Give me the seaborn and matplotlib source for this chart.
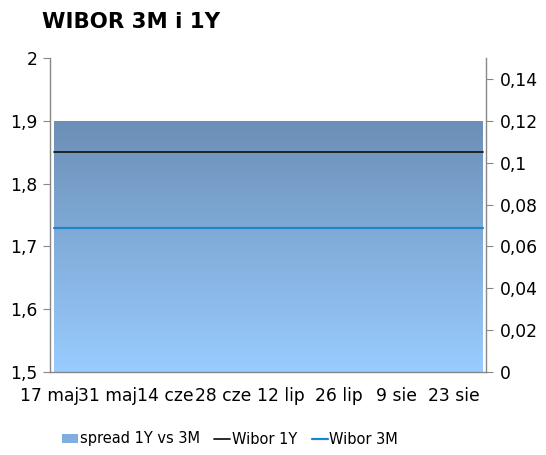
import matplotlib
matplotlib.use("Agg")
import matplotlib.pyplot as plt
import matplotlib.dates as mdates
from matplotlib.patches import Patch
from matplotlib.lines import Line2D
from matplotlib.colors import LinearSegmentedColormap
import seaborn as sns
import numpy as np
import pandas as pd

# ---- data ----
dates = ["2021-05-18", "2021-05-25", "2021-06-01", "2021-06-08", "2021-06-15",
         "2021-06-22", "2021-06-29", "2021-07-06", "2021-07-13", "2021-07-20",
         "2021-07-27", "2021-08-03", "2021-08-10", "2021-08-17", "2021-08-24",
         "2021-08-30"]
wibor_1y = [1.85, 1.85, 1.85, 1.85, 1.85, 1.85, 1.85, 1.85, 1.85, 1.85,
            1.85, 1.85, 1.85, 1.85, 1.85, 1.85]
wibor_3m = [1.73, 1.73, 1.73, 1.73, 1.73, 1.73, 1.73, 1.73, 1.73, 1.73,
            1.73, 1.73, 1.73, 1.73, 1.73, 1.73]
spread = [0.12, 0.12, 0.12, 0.12, 0.12, 0.12, 0.12, 0.12, 0.12, 0.12,
          0.12, 0.12, 0.12, 0.12, 0.12, 0.12]
tick_dates = ["2021-05-17", "2021-05-31", "2021-06-14", "2021-06-28",
              "2021-07-12", "2021-07-26", "2021-08-09", "2021-08-23"]
tick_labels = ["17 maj", "31 maj", "14 cze", "28 cze", "12 lip", "26 lip",
               "9 sie", "23 sie"]
left_ticks = [1.5, 1.6, 1.7, 1.8, 1.9, 2.0]
right_ticks = [0, 0.02, 0.04, 0.06, 0.08, 0.1, 0.12, 0.14]

df = pd.DataFrame({"date": pd.to_datetime(dates), "Wibor 1Y": wibor_1y,
                   "Wibor 3M": wibor_3m, "spread": spread})

sns.set_style("white")
plt.rcParams["font.family"] = ["DejaVu Sans"]
plt.rcParams["text.color"] = "black"

fig = plt.figure(figsize=(5.46, 4.55), dpi=100)
ax = fig.add_axes([50/546, 1-372/455, (486-50)/546, (372-58)/455])
ax2 = ax.twinx()

grid_color = "#888888"

# area on secondary axis with gradient
x = mdates.date2num(df["date"])
poly = ax2.fill_between(x, 0, df["spread"], color="none", lw=0)
cmap = LinearSegmentedColormap.from_list("g", ["#99ccff", "#6b8fb6"])
grad = np.linspace(0, 1, 256).reshape(-1, 1)
im = ax2.imshow(grad, cmap=cmap, aspect="auto", origin="lower",
                extent=[x.min(), x.max(), 0, max(spread)], zorder=1)
path = poly.get_paths()[0]
im.set_clip_path(path, transform=ax2.transData)

# lines on primary axis
ax.set_zorder(ax2.get_zorder() + 1)
ax.patch.set_visible(False)
sns.lineplot(data=df, x="date", y="Wibor 1Y", ax=ax, color="#1a1a1a", lw=1.3)
sns.lineplot(data=df, x="date", y="Wibor 3M", ax=ax, color="#1f86c8", lw=1.6)

xmin = mdates.date2num(pd.Timestamp("2021-05-17"))
xmax = mdates.date2num(pd.Timestamp("2021-08-30")) + 0.7
ax.set_xlim(xmin, xmax)
ax2.set_xlim(xmin, xmax)
ax.set_ylim(1.5, 2.0)
ax2.set_ylim(0, 0.15)

ax.set_xticks(mdates.date2num(pd.to_datetime(tick_dates)))
ax.set_xticklabels(tick_labels)
ax.set_yticks(left_ticks)
ax.set_yticklabels([f"{v:g}".replace(".", ",") for v in left_ticks])
ax2.set_yticks(right_ticks)
ax2.set_yticklabels([f"{v:g}".replace(".", ",") for v in right_ticks])
ax.set_xlabel("")
ax.set_ylabel("")
ax2.set_ylabel("")

for a in (ax, ax2):
    for s in a.spines.values():
        s.set_color(grid_color)
        s.set_linewidth(1)
    a.spines["top"].set_visible(False)
ax.spines["right"].set_visible(False)
ax2.spines["left"].set_visible(False)
ax2.spines["bottom"].set_visible(False)

ax.tick_params(axis="both", direction="out", length=5, color=grid_color,
               labelsize=12.3, labelcolor="black", pad=4)
ax.tick_params(axis="x", pad=6)
ax2.tick_params(axis="y", direction="out", length=5, color=grid_color,
                labelsize=12.3, labelcolor="black", pad=5)

fig.text(42/546, 1-22/455, "WIBOR 3M i 1Y", fontsize=15.3, fontweight="bold",
         va="center", ha="left", color="black")

handles = [Patch(facecolor="#80aee0", edgecolor="none"),
           Line2D([0], [0], color="#1a1a1a", lw=1.3),
           Line2D([0], [0], color="#1f86c8", lw=1.6)]
fig.legend(handles, ["spread 1Y vs 3M", "Wibor 1Y", "Wibor 3M"],
           loc="center", bbox_to_anchor=(230/546, 1-439/455), ncol=3,
           frameon=False, fontsize=10.5, handlelength=1.1, handletextpad=0.1,
           columnspacing=1.0, handleheight=0.6)

fig.savefig("out.png", dpi=100)
